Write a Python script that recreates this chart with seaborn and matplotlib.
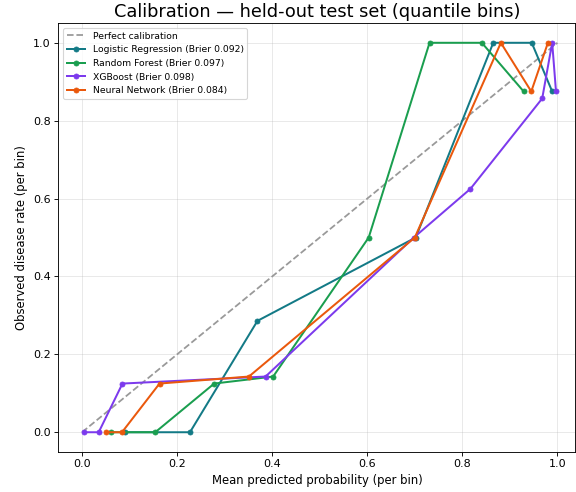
import numpy as np
import pandas as pd
import matplotlib
matplotlib.use("Agg")
import matplotlib.pyplot as plt
import seaborn as sns

# Calibration curves (mean predicted prob, observed rate)
lr_x = [0.091, 0.227, 0.369, 0.702, 0.865, 0.946, 0.989]
lr_y = [0.0, 0.0, 0.286, 0.5, 1.0, 1.0, 0.875]

rf_x = [0.060, 0.154, 0.278, 0.402, 0.603, 0.731, 0.841, 0.929]
rf_y = [0.0, 0.0, 0.125, 0.143, 0.5, 1.0, 1.0, 0.875]

xgb_x = [0.004, 0.035, 0.085, 0.386, 0.698, 0.817, 0.968, 0.989, 0.997]
xgb_y = [0.0, 0.0, 0.125, 0.143, 0.5, 0.625, 0.857, 1.0, 0.875]

nn_x = [0.051, 0.084, 0.163, 0.351, 0.700, 0.881, 0.945, 0.980]
nn_y = [0.0, 0.0, 0.125, 0.143, 0.5, 1.0, 0.875, 1.0]

models = ["Logistic Regression", "Random Forest", "XGBoost", "Neural Network"]
brier = [0.092, 0.097, 0.098, 0.084]
colors = ["#137a86", "#1a9e4f", "#7c3aed", "#ea580c"]
curves = [(lr_x, lr_y), (rf_x, rf_y), (xgb_x, xgb_y), (nn_x, nn_y)]

fig, ax = plt.subplots(figsize=(7.2, 6.15), dpi=80)
fig.subplots_adjust(left=0.1012, right=0.9991, bottom=0.0819, top=0.9526)

# Diagonal reference
ax.plot([0, 1], [0, 1], linestyle="--", color="#999999", lw=1.6, label="Perfect calibration")

for name, b, c, (xs, ys) in zip(models, brier, colors, curves):
    df = pd.DataFrame({"pred": xs, "obs": ys})
    sns.lineplot(data=df, x="pred", y="obs", ax=ax, color=c, marker="o",
                 markersize=4.5, markeredgecolor=c, linewidth=1.8, sort=False,
                 label=f"{name} (Brier {b:.3f})")

ax.set_xlim(-0.05, 1.038)
ax.set_ylim(-0.05, 1.05)
ax.grid(True, alpha=0.3)
ax.set_xlabel("Mean predicted probability (per bin)", fontsize=10.5)
ax.set_ylabel("Observed disease rate (per bin)", fontsize=10.5)
ax.set_title("Calibration — held-out test set (quantile bins)", fontsize=16)
ax.legend(loc="upper left", fontsize="small")

plt.savefig("out.png")
